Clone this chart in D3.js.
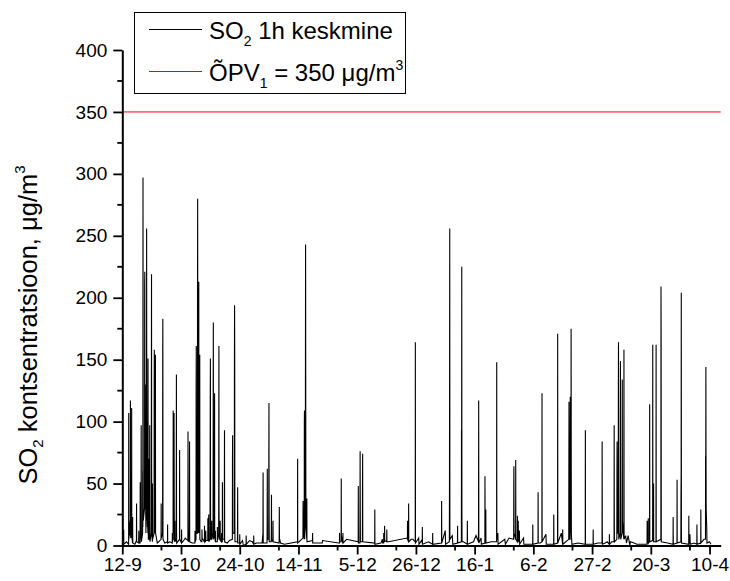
<!DOCTYPE html>
<html>
<head>
<meta charset="utf-8">
<script src="https://cdn.jsdelivr.net/npm/d3@7"></script>
<style>
  html, body { margin: 0; padding: 0; background: #fff; }
  svg { display: block; font-family: "Liberation Sans", Arial, sans-serif; }
</style>
</head>
<body>
<svg id="chart" width="730" height="581"></svg>
<script>
// Hourly SO2 readings, [days since 12 Sep, µg/m3]
const so2Hourly = [
  [0.0,2],[0.46,2],[0.5,13],[0.54,1],[1.5,3],[2.26,1],[2.3,107],[2.34,5],[2.8,20],[2.86,8],[2.9,117],[2.94,30],[3.0,6],
  [3.31,10],[3.35,111],[3.39,8],[3.66,2],[3.7,23],[3.74,2],[4.5,1],[5.06,4],[5.1,34],[5.14,3],[5.86,2],[5.9,12],[5.94,2],
  [6.36,2],[6.4,51],[6.44,10],[6.71,5],[6.75,97],[6.79,40],[6.83,3],[7.26,10],[7.3,60],[7.35,15],[7.4,297],[7.45,150],
  [7.5,20],[7.96,30],[8.0,210],[8.05,221],[8.1,80],[8.46,10],[8.5,130],[8.55,20],[8.66,40],[8.7,256],[8.74,150],[8.8,30],
  [8.96,15],[9.0,100],[9.04,20],[9.16,10],[9.2,151],[9.24,40],[9.3,5],[9.56,5],[9.6,70],[9.64,10],[9.76,5],[9.8,97],
  [9.84,20],[9.9,3],[10.36,10],[10.4,130],[10.45,219],[10.5,60],[10.55,10],[10.76,3],[10.8,50],[10.84,5],[11.36,10],
  [11.4,130],[11.45,158],[11.5,30],[11.76,10],[11.8,70],[11.85,154],[11.9,10],[12.5,2],[13.0,3],[13.86,5],[13.9,34],
  [13.94,6],[14.41,10],[14.45,150],[14.5,183],[14.55,5],[15.2,2],[16.16,3],[16.2,17],[16.24,2],[17.0,3],[17.86,2],
  [17.9,10],[17.94,3],[18.16,5],[18.2,109],[18.24,30],[18.46,10],[18.5,107],[18.55,51],[18.6,5],[18.76,3],[18.8,20],
  [18.84,3],[19.26,5],[19.3,40],[19.35,138],[19.4,15],[19.45,2],[20.46,5],[20.5,77],[20.54,5],[21.16,2],[21.2,13],
  [21.24,2],[22.3,5],[22.5,6],[23.46,4],[23.5,92],[23.54,15],[23.6,3],[23.96,5],[24.0,40],[24.05,84],[24.1,3],[25.0,2],
  [25.96,2],[26.0,12],[26.04,3],[26.36,5],[26.4,130],[26.45,161],[26.5,60],[26.55,10],[26.86,10],[26.9,200],[26.95,280],
  [27.0,100],[27.05,20],[27.26,10],[27.3,150],[27.35,213],[27.4,30],[27.66,10],[27.7,154],[27.74,5],[28.2,3],[28.46,3],
  [28.5,13],[28.54,6],[29.36,3],[29.4,16],[29.44,3],[29.76,3],[29.8,10],[29.85,12],[29.9,4],[30.56,4],[30.6,22],
  [30.64,4],[30.86,4],[30.9,25],[30.94,3],[31.36,5],[31.4,60],[31.45,119],[31.5,151],[31.55,40],[31.6,5],[31.96,5],
  [32.0,20],[32.04,5],[32.46,10],[32.5,100],[32.55,180],[32.6,60],[32.65,5],[32.96,10],[33.0,123],[33.04,10],[33.26,3],
  [33.3,12],[33.34,3],[33.96,3],[34.0,15],[34.04,5],[34.46,10],[34.5,80],[34.55,161],[34.6,30],[34.65,5],[34.96,5],
  [35.0,20],[35.04,4],[35.46,3],[35.5,10],[35.54,3],[35.76,3],[35.8,51],[35.84,5],[36.46,5],[36.5,40],[36.55,93],
  [36.6,3],[37.5,2],[38.3,4],[39.36,5],[39.4,70],[39.45,89],[39.5,10],[40.06,10],[40.1,150],[40.15,194],[40.2,157],
  [40.25,20],[40.3,3],[41.16,3],[41.2,10],[41.25,47],[41.3,2],[41.96,2],[42.0,9],[42.04,1],[43.0,4],[43.3,0],[44.26,1],
  [44.3,8],[44.34,1],[45.5,4],[46.5,3],[46.96,1],[47.0,8],[47.04,1],[48.0,2],[50.0,2],[50.3,10],[50.35,59],[50.4,2],
  [51.76,2],[51.8,15],[51.85,62],[51.9,5],[52.36,5],[52.4,60],[52.45,115],[52.5,30],[52.55,3],[53.26,3],[53.3,10],
  [53.35,41],[53.4,5],[53.86,3],[53.9,20],[53.94,3],[56.06,2],[56.1,5],[56.15,31],[56.2,6],[56.6,2],[58.0,1],[62.66,3],
  [62.7,70],[62.74,2],[64.6,6],[64.65,36],[64.7,10],[64.9,10],[65.06,5],[65.1,100],[65.15,109],[65.2,5],[65.46,20],
  [65.5,150],[65.55,243],[65.6,128],[65.65,20],[65.96,5],[66.0,38],[66.04,3],[68.0,4],[68.05,10],[68.1,2],[71.5,2],
  [71.6,4],[77.4,2],[77.66,2],[77.7,10],[77.74,3],[78.26,3],[78.3,54],[78.34,8],[78.86,2],[78.9,10],[78.94,2],[80.2,5],
  [84.36,3],[84.4,48],[84.44,2],[84.96,2],[85.0,20],[85.05,76],[85.1,30],[85.15,3],[85.86,3],[85.9,50],[85.95,74],
  [86.0,3],[90.26,2],[90.3,29],[90.34,1],[92.5,2],[93.0,5],[93.1,2],[93.46,2],[93.5,10],[93.54,3],[93.76,3],[93.8,16],
  [93.84,4],[94.56,3],[94.6,13],[94.64,3],[95.2,3],[101.8,6],[101.96,5],[102.0,20],[102.04,5],[102.36,3],[102.4,34],
  [102.44,3],[103.3,5],[104.0,5],[104.3,4],[104.76,3],[104.8,164],[104.84,2],[106.0,6],[106.1,1],[107.0,4],[107.26,2],
  [107.3,15],[107.34,1],[109.5,3],[110.96,1],[111.0,10],[111.04,1],[114.16,2],[114.2,36],[114.24,2],[115.5,12],
  [115.6,1],[116.96,3],[117.0,40],[117.05,134],[117.1,256],[117.15,5],[118.0,8],[118.2,1],[119.86,2],[119.9,16],
  [119.94,2],[121.26,3],[121.3,93],[121.35,60],[121.4,225],[121.45,30],[121.5,3],[122.0,3],[123.36,1],[123.4,20],
  [123.44,1],[125.6,3],[126.5,8],[127.36,3],[127.4,20],[127.45,117],[127.5,2],[128.3,6],[128.4,1],[129.66,2],[129.7,56],
  [129.75,10],[129.96,3],[130.0,29],[130.04,2],[132.0,3],[133.86,3],[133.9,148],[133.94,5],[134.3,10],[134.4,1],
  [136.8,5],[137.0,1],[138.3,6],[139.96,5],[140.0,50],[140.05,64],[140.1,10],[140.66,5],[140.7,69],[140.74,5],
  [141.26,3],[141.3,24],[141.34,3],[141.56,3],[141.6,20],[141.64,3],[142.0,12],[142.1,1],[143.5,6],[143.6,1],
  [146.76,1],[146.8,17],[146.84,1],[148.66,2],[148.7,43],[148.74,2],[149.5,2],[150.06,3],[150.1,123],[150.14,3],
  [151.5,9],[151.6,1],[154.26,1],[154.3,25],[154.34,1],[155.66,2],[155.7,171],[155.74,2],[157.0,10],[157.46,1],
  [157.5,13],[157.54,1],[159.66,5],[159.7,60],[159.75,116],[159.8,80],[159.85,5],[160.16,5],[160.2,120],[160.25,20],
  [160.46,10],[160.5,175],[160.55,66],[160.6,9],[160.8,1],[163.0,2],[165.56,1],[165.6,93],[165.64,1],[168.36,1],
  [168.4,13],[168.44,1],[170.0,2],[171.56,2],[171.6,84],[171.65,15],[171.7,1],[172.7,2],[173.4,3],[174.16,1],
  [174.2,9],[174.24,1],[175.0,3],[175.86,3],[175.9,97],[175.95,25],[176.0,3],[176.86,5],[176.9,60],[176.95,84],
  [177.0,10],[177.36,10],[177.4,120],[177.45,164],[177.5,40],[177.55,5],[178.06,10],[178.1,100],[178.15,149],
  [178.2,60],[178.25,5],[178.76,10],[178.8,134],[178.85,20],[179.36,5],[179.4,158],[179.45,5],[180.0,8],[180.3,2],
  [180.9,8],[181.5,0],[181.7,3],[183.0,2],[184.0,1],[187.66,1],[187.7,20],[187.74,3],[188.06,2],[188.1,22],[188.14,2],
  [188.56,3],[188.6,114],[188.64,3],[189.66,4],[189.7,162],[189.74,4],[189.96,4],[190.0,50],[190.04,3],[190.86,3],
  [190.9,162],[190.94,3],[192.6,5],[192.65,209],[192.7,166],[192.75,3],[195.0,2],[196.96,1],[197.0,23],[197.04,1],
  [198.36,2],[198.4,53],[198.44,2],[199.76,3],[199.8,40],[199.85,57],[199.9,204],[199.95,10],[200.0,2],[202.56,1],
  [202.6,24],[202.64,1],[203.0,9],[203.1,1],[204.5,2],[205.46,1],[205.5,17],[205.54,1],[206.86,2],[206.9,29],
  [206.94,2],[208.0,5],[208.56,5],[208.6,72],[208.65,40],[208.7,144],[208.75,74],[208.8,30],[209.0,15],[209.1,2],
  [210.0,3],[210.5,1]
];

// 1-hour limit value
const limitValue = [350];

// Axis ticks
const xTickDates = ["2006-09-12", "2006-10-03", "2006-10-24", "2006-11-14", "2006-12-05", "2006-12-26",
                    "2007-01-16", "2007-02-06", "2007-02-27", "2007-03-20", "2007-04-10"];
const xTickLabels = ["12-9", "3-10", "24-10", "14-11", "5-12", "26-12", "16-1", "6-2", "27-2", "20-3", "10-4"];
const xMinorDates = ["2006-09-26", "2006-10-17", "2006-11-07", "2006-11-28", "2006-12-19", "2007-01-09",
                     "2007-01-30", "2007-02-20", "2007-03-13", "2007-04-03"];
const yTicks = [0, 50, 100, 150, 200, 250, 300, 350, 400];
const yMinorTicks = [25, 75, 125, 175, 225, 275, 325, 375];

const startDate = new Date(Date.UTC(2006, 8, 12));
const endDate = new Date(Date.UTC(2007, 3, 14));
const dayMs = 864e5;

const svg = d3.select("#chart");
const plotLeft = 122.3, plotRight = 720.7, plotTop = 50, plotBottom = 545.5;

const x = d3.scaleUtc().domain([startDate, endDate]).range([plotLeft, plotRight]);
const y = d3.scaleLinear().domain([0, 400]).range([plotBottom, plotTop]);

const parse = d3.utcParse("%Y-%m-%d");
const limitRed = "#ff0000";

// Limit line
svg.append("line")
  .attr("x1", plotLeft).attr("x2", plotRight)
  .attr("y1", y(limitValue[0])).attr("y2", y(limitValue[0]))
  .attr("stroke", limitRed).attr("stroke-width", 1);

// Measurement line
const line = d3.line()
  .x(d => x(new Date(startDate.getTime() + d[0] * dayMs)))
  .y(d => y(d[1]));

svg.append("path")
  .datum(so2Hourly)
  .attr("fill", "none")
  .attr("stroke", "#000")
  .attr("stroke-width", 1.1)
  .attr("stroke-linejoin", "miter")
  .attr("d", line);

// X axis
const xAxis = svg.append("g").attr("transform", `translate(0,${plotBottom})`);
xAxis.call(d3.axisBottom(x)
    .tickValues(xTickDates.map(parse))
    .tickFormat((d, i) => xTickLabels[i])
    .tickSize(9).tickPadding(3).tickSizeOuter(0));
xAxis.append("g").selectAll("line").data(xMinorDates.map(parse)).join("line")
  .attr("x1", d => x(d)).attr("x2", d => x(d)).attr("y1", 0).attr("y2", 5)
  .attr("stroke", "#000").attr("stroke-width", 1.8);

// Y axis
const yAxis = svg.append("g").attr("transform", `translate(${plotLeft},0)`);
yAxis.call(d3.axisLeft(y)
    .tickValues(yTicks)
    .tickSize(9).tickPadding(6).tickSizeOuter(0));
yAxis.append("g").selectAll("line").data(yMinorTicks).join("line")
  .attr("x1", 0).attr("x2", -5).attr("y1", d => y(d)).attr("y2", d => y(d))
  .attr("stroke", "#000").attr("stroke-width", 1.8);

[xAxis, yAxis].forEach(g => {
  g.select(".domain").attr("stroke", "#000").attr("stroke-width", 2);
  g.selectAll(".tick line").attr("stroke", "#000").attr("stroke-width", 1.8);
  g.selectAll(".tick text").attr("fill", "#000")
    .style("font-family", "'Liberation Sans', Arial, sans-serif")
    .style("font-size", "19px");
});

// Y axis title
const yTitle = svg.append("text")
  .attr("transform", `translate(36.5,325) rotate(-90)`)
  .attr("text-anchor", "middle")
  .style("font-size", "25.5px")
  .attr("fill", "#000");
yTitle.append("tspan").text("SO");
yTitle.append("tspan").text("2").style("font-size", "15px").attr("dy", 6);
yTitle.append("tspan").text(" kontsentratsioon, μg/m").attr("dy", -6);
yTitle.append("tspan").text("3").style("font-size", "15px").attr("dy", -12);

// Legend
const legend = svg.append("g");
legend.append("rect")
  .attr("x", 134.5).attr("y", 12.5).attr("width", 271).attr("height", 81)
  .attr("fill", "#fff").attr("stroke", "#000").attr("stroke-width", 1);
legend.append("line").attr("x1", 149).attr("x2", 202).attr("y1", 29.5).attr("y2", 29.5)
  .attr("stroke", "#000").attr("stroke-width", 1);
legend.append("line").attr("x1", 149).attr("x2", 202).attr("y1", 71.5).attr("y2", 71.5)
  .attr("stroke", limitRed).attr("stroke-width", 1);

const t1 = legend.append("text").attr("x", 209).attr("y", 38.5).style("font-size", "24px").attr("fill", "#000");
t1.append("tspan").text("SO");
t1.append("tspan").text("2").style("font-size", "14px").attr("dy", 7);
t1.append("tspan").text(" 1h keskmine").attr("dy", -7);

const t2 = legend.append("text").attr("x", 209).attr("y", 80.5).style("font-size", "24px").attr("fill", "#000");
t2.append("tspan").text("ÕPV");
t2.append("tspan").text("1").style("font-size", "14px").attr("dy", 7);
t2.append("tspan").text(` = ${limitValue[0]} μg/m`).attr("dy", -7);
t2.append("tspan").text("3").style("font-size", "14px").attr("dy", -11);
</script>
</body>
</html>
